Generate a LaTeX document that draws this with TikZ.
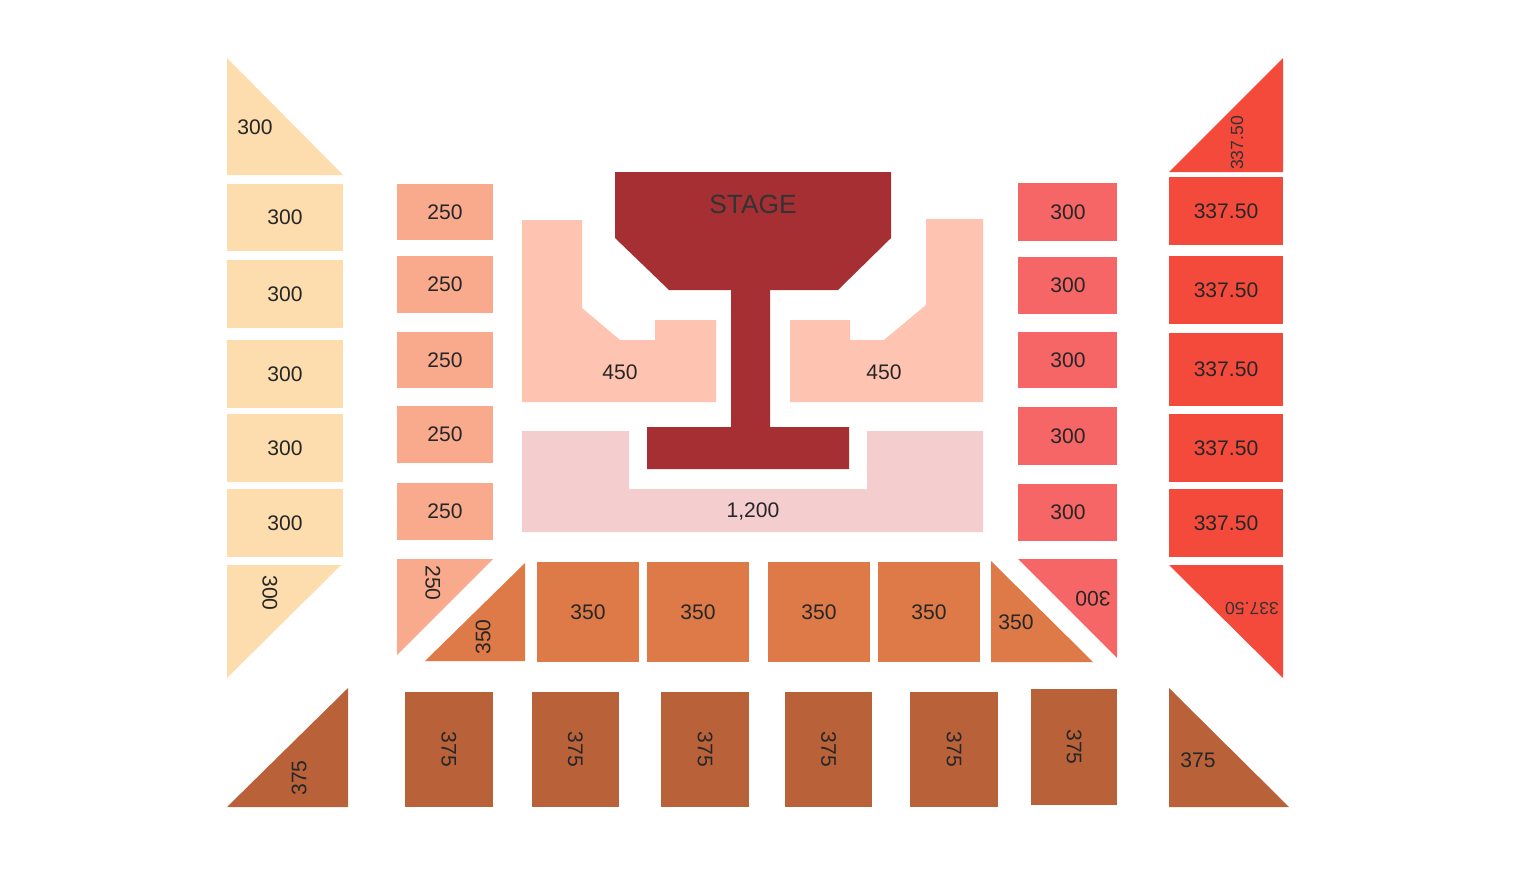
\documentclass[tikz,border=0pt]{standalone}
\usepackage{fontspec}
\setmainfont{Liberation Sans}
\usetikzlibrary{positioning}
\definecolor{peach}{HTML}{FDDDAD}
\definecolor{salmon}{HTML}{F9AA8C}
\definecolor{pink}{HTML}{FFC3B1}
\definecolor{rose}{HTML}{F4CDCF}
\definecolor{stagered}{HTML}{A52F32}
\definecolor{orng}{HTML}{DE7A47}
\definecolor{brwn}{HTML}{B9623A}
\definecolor{coral}{HTML}{F76666}
\definecolor{scarlet}{HTML}{F44A3C}
\begin{document}
\begin{tikzpicture}[x=0.01cm,y=-0.01cm,
  seat/.style={font=\fontsize{6}{7}\selectfont,text=black!85},
  tiny/.style={font=\fontsize{5}{6}\selectfont,text=black!80}]
\useasboundingbox (0,0) rectangle (1516,872);

% left column
\fill[peach] (227,58) -- (343,175) -- (227,175) -- cycle;
\node[seat] (l0) at (255,127) {300};
\foreach \a/\b [count=\i] in {184/251,260/328,340/408,414/482,489/557}
{
	\fill[peach] (227,\a) rectangle (343,\b);
	\node[seat] (l\i) at (285,{(\a+\b)/2}) {300};
}
\fill[peach] (227,565) -- (341,565) -- (227,678) -- cycle;
\node[seat,rotate=-90] (l6) at (270,593) {300};

% 250 column
\foreach \a/\b [count=\i] in {184/240,256/313,332/388,406/463,483/540}
{
	\fill[salmon] (397,\a) rectangle (493,\b);
	\node[seat] (s\i) at (445,{(\a+\b)/2}) {250};
}
\fill[salmon] (397,559) -- (493,559) -- (397,655) -- cycle;
\node[seat,rotate=-90] (s6) at (433,583) {250};

% stage
\fill[stagered] (615,172) -- (891,172) -- (891,238) -- (838,290) -- (770,290)
  -- (770,427) -- (849,427) -- (849,469) -- (647,469) -- (647,427)
  -- (731,427) -- (731,290) -- (669,290) -- (615,238) -- cycle;
\node[font=\fontsize{7.5}{9}\selectfont,text=black!80] (stage) at (753,204) {STAGE};

% floor
\fill[pink] (522,220) -- (582,220) -- (582,308) -- (620,340) -- (655,340)
  -- (655,320) -- (716,320) -- (716,402) -- (522,402) -- cycle;
\node[seat] (fl) at (620,372) {450};
\fill[pink] (983,219) -- (926,219) -- (926,305) -- (884,340) -- (850,340)
  -- (850,320) -- (790,320) -- (790,402) -- (983,402) -- cycle;
\node[seat] (fr) at (884,372) {450};
\fill[rose] (522,431) -- (629,431) -- (629,489) -- (867,489) -- (867,431)
  -- (983,431) -- (983,532) -- (522,532) -- cycle;
\node[seat] (ga) at (753,511) {1,200};

% 350 row
\fill[orng] (525,563) -- (525,661) -- (425,661) -- cycle;
\node[seat,rotate=90] (o0) at (483,637) {350};
\foreach \a/\b [count=\i] in {537/639,647/749,768/870,878/980}
{
	\fill[orng] (\a,562) rectangle (\b,662);
	\node[seat] (o\i) at ({(\a+\b)/2},612) {350};
}
\fill[orng] (991,561) -- (991,662) -- (1093,662) -- cycle;
\node[seat] (o5) at (1016,622) {350};

% 300 right column
\foreach \a/\b [count=\i] in {183/241,257/314,332/388,407/465,484/541}
{
	\fill[coral] (1018,\a) rectangle (1117,\b);
	\node[seat] (c\i) at (1068,{(\a+\b)/2}) {300};
}
\fill[coral] (1018,559) -- (1117,559) -- (1117,658) -- cycle;
\node[seat,rotate=180] (c6) at (1093,599) {300};

% 337.50 column
\fill[scarlet] (1169,172) -- (1283,58) -- (1283,172) -- cycle;
\node[tiny,rotate=90] (r0) at (1237,143) {337.50};
\foreach \a/\b [count=\i] in {177/245,256/324,333/406,414/482,489/557}
{
	\fill[scarlet] (1169,\a) rectangle (1283,\b);
	\node[seat] (r\i) at (1226,{(\a+\b)/2}) {337.50};
}
\fill[scarlet] (1169,565) -- (1283,565) -- (1283,678) -- cycle;
\node[tiny,rotate=180] (r6) at (1252,609) {337.50};

% 375 row
\fill[brwn] (227,807) -- (348,688) -- (348,807) -- cycle;
\node[seat,rotate=90] (b0) at (299,778) {375};
\foreach \a/\b/\c/\d [count=\i] in {405/493/692/807,532/619/692/807,661/749/692/807,785/872/692/807,910/998/692/807,1031/1117/689/805}
{
	\fill[brwn] (\a,\c) rectangle (\b,\d);
	\node[seat,rotate=-90] (b\i) at ({(\a+\b)/2},{(\c+\d)/2}) {375};
}
\fill[brwn] (1169,688) -- (1289,807) -- (1169,807) -- cycle;
\node[seat] (b7) at (1198,760) {375};
\end{tikzpicture}
\end{document}
